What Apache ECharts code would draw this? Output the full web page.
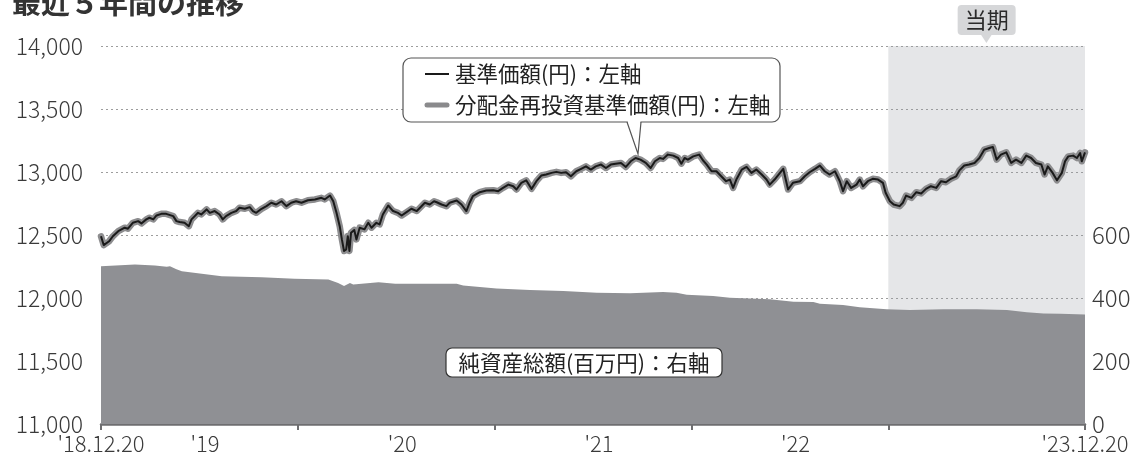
<!DOCTYPE html>
<html>
<head>
<meta charset="utf-8">
<script src="https://cdn.jsdelivr.net/npm/echarts@6/dist/echarts.min.js"></script>
<style>
  html, body { margin: 0; padding: 0; background: #ffffff; }
  #chart { width: 1136px; height: 455px; }
</style>
</head>
<body>
<div id="chart"></div>
<script>
// 基準価額（円）: dates and values
const navDates = [
  '2018-12-20','2018-12-25','2019-01-04','2019-01-11','2019-01-21','2019-02-02','2019-02-08','2019-02-17','2019-02-27','2019-03-05',
  '2019-03-14','2019-03-20','2019-03-27','2019-04-02','2019-04-11','2019-04-20','2019-05-03','2019-05-09','2019-05-15','2019-05-24',
  '2019-06-01','2019-06-06','2019-06-12','2019-06-18','2019-06-24','2019-07-04','2019-07-10','2019-07-19','2019-07-28','2019-08-03',
  '2019-08-09','2019-08-19','2019-08-28','2019-09-03','2019-09-13','2019-09-22','2019-09-28','2019-10-04','2019-10-14','2019-10-23',
  '2019-11-01','2019-11-10','2019-11-20','2019-11-29','2019-12-08','2019-12-17','2019-12-27','2020-01-08','2020-01-21','2020-02-02',
  '2020-02-08','2020-02-18','2020-02-24','2020-03-01','2020-03-07','2020-03-11','2020-03-15','2020-03-19','2020-03-22','2020-03-25',
  '2020-03-28','2020-04-03','2020-04-07','2020-04-13','2020-04-22','2020-04-29','2020-05-05','2020-05-14','2020-05-20','2020-05-26',
  '2020-06-05','2020-06-14','2020-06-23','2020-06-30','2020-07-09','2020-07-18','2020-07-28','2020-08-03','2020-08-12','2020-08-21',
  '2020-08-29','2020-09-03','2020-09-12','2020-09-21','2020-09-27','2020-10-10','2020-10-19','2020-10-28','2020-11-03','2020-11-09',
  '2020-11-22','2020-12-04','2020-12-17','2020-12-26','2021-01-04','2021-01-14','2021-01-23','2021-01-29','2021-02-07','2021-02-16',
  '2021-02-26','2021-03-07','2021-03-16','2021-03-25','2021-04-04','2021-04-13','2021-04-22','2021-05-01','2021-05-10','2021-05-20',
  '2021-05-29','2021-06-07','2021-06-16','2021-06-25','2021-07-05','2021-07-14','2021-07-23','2021-08-01','2021-08-11','2021-08-20',
  '2021-08-29','2021-09-07','2021-09-16','2021-09-26','2021-10-05','2021-10-13','2021-10-22','2021-10-28','2021-11-06','2021-11-16',
  '2021-11-25','2021-12-01','2021-12-07','2021-12-13','2021-12-23','2022-01-03','2022-01-10','2022-01-17','2022-01-26','2022-02-04',
  '2022-02-13','2022-02-22','2022-03-01','2022-03-07','2022-03-13','2022-03-23','2022-04-01','2022-04-10','2022-04-19','2022-04-29',
  '2022-05-08','2022-05-14','2022-05-23','2022-06-02','2022-06-08','2022-06-17','2022-06-26','2022-07-09','2022-07-18','2022-07-27',
  '2022-08-06','2022-08-15','2022-08-24','2022-09-02','2022-09-12','2022-09-21','2022-09-27','2022-10-04','2022-10-12','2022-10-22',
  '2022-10-28','2022-11-03','2022-11-12','2022-11-21','2022-12-01','2022-12-10','2022-12-15','2022-12-23','2022-12-30','2023-01-10',
  '2023-01-16','2023-01-22','2023-02-01','2023-02-10','2023-02-19','2023-02-28','2023-03-09','2023-03-19','2023-03-28','2023-04-06',
  '2023-04-15','2023-04-25','2023-05-01','2023-05-10','2023-05-19','2023-05-29','2023-06-07','2023-06-16','2023-06-25','2023-07-02',
  '2023-07-09','2023-07-17','2023-07-27','2023-08-05','2023-08-14','2023-08-24','2023-09-02','2023-09-11','2023-09-20','2023-09-30',
  '2023-10-06','2023-10-12','2023-10-21','2023-10-29','2023-11-07','2023-11-13','2023-11-19','2023-11-28','2023-12-05','2023-12-11',
  '2023-12-14','2023-12-20'
];
const navValues = [
  12490,12420,12450,12490,12530,12558,12550,12597,12610,12592,
  12624,12637,12624,12655,12668,12668,12650,12610,12603,12597,
  12570,12624,12650,12676,12663,12703,12676,12690,12663,12624,
  12650,12676,12690,12716,12708,12721,12690,12676,12708,12729,
  12756,12742,12768,12729,12756,12768,12756,12776,12782,12795,
  12782,12813,12768,12676,12570,12465,12373,12385,12491,12373,
  12518,12540,12465,12558,12545,12597,12558,12597,12584,12663,
  12734,12690,12676,12655,12681,12708,12690,12716,12756,12742,
  12768,12760,12742,12729,12756,12774,12742,12690,12756,12808,
  12840,12853,12855,12848,12874,12900,12887,12861,12914,12934,
  12866,12927,12972,12980,12993,13001,12993,12998,12966,13006,
  13025,13045,13019,13045,13059,13032,13059,13066,13072,13040,
  13085,13111,13098,13072,13032,13085,13111,13104,13138,13130,
  13111,13066,13111,13098,13124,13138,13093,13059,13006,13006,
  12966,12927,12940,12874,12940,13019,13040,12993,13019,12980,
  12940,12900,12940,12993,13025,12861,12914,12927,12966,12998,
  13025,13051,13006,12980,13006,12927,12848,12927,12874,12900,
  12940,12887,12927,12946,12940,12914,12835,12768,12742,12729,
  12756,12813,12795,12840,12830,12866,12887,12874,12927,12919,
  12946,12966,13013,13051,13059,13072,13111,13177,13190,13198,
  13098,13138,13156,13072,13098,13072,13130,13111,13072,13059,
  12980,13045,12993,12934,12993,13085,13124,13130,13111,13151,
  13085,13156
];
// 分配金再投資基準価額（円）: no distributions in the period, so it follows 基準価額
const reinvestValues = navValues.slice();

// 純資産総額（百万円）
const assetDates = [
  '2018-12-20','2019-02-21','2019-03-30','2019-04-21','2019-04-27','2019-05-09','2019-05-19','2019-08-01','2019-10-14','2019-12-14',
  '2020-02-15','2020-03-04','2020-03-15','2020-03-26','2020-04-01','2020-05-18','2020-06-18','2020-08-31','2020-10-10','2020-10-22',
  '2020-12-23','2021-02-23','2021-04-26','2021-06-27','2021-08-28','2021-10-28','2021-11-22','2021-12-11','2022-01-29','2022-03-01',
  '2022-05-14','2022-06-27','2022-08-03','2022-08-15','2022-09-27','2022-10-28','2022-12-17','2023-01-29','2023-04-01','2023-06-02',
  '2023-07-28','2023-09-03','2023-10-04','2023-11-04','2023-12-20'
];
const assetValues = [
  501,506,503,499,501,491,485,469,466,461,
  459,448,438,448,443,450,445,445,445,440,
  430,425,422,417,415,419,417,410,406,401,
  396,388,387,382,378,371,364,362,364,364,
  362,355,351,350,348
];

// Axis ticks and labels
const tickDates = ['2018-12-20','2019-12-20','2020-12-20','2021-12-20','2022-12-20','2023-12-20'];
const labelDates = ['2018-12-20','2019-07-01','2020-07-01','2021-07-01','2022-07-01','2023-12-20'];
const labelTexts = ["'18.12.20","'19","'20","'21","'22","'23.12.20"];
const periodRange = ['2022-12-20','2023-12-20'];
const periodMid = '2023-06-20';
const leftAxis = { min: 11000, max: 14000, step: 500 };
const rightAxis = { min: 0, max: 1200, step: 200, shownMax: 600 };

const seriesNames = ['基準価額(円)：左軸', '分配金再投資基準価額(円)：左軸', '純資産総額(百万円)：右軸'];

const FONT = '"Noto Sans CJK JP", "Noto Sans", sans-serif';
const DAY = 86400000;
const t = d => echarts.time.parse(d).getTime();
const labelTimes = labelDates.map(t);

const navData = navDates.map((d, i) => [t(d), navValues[i]]);
const reinvestData = navDates.map((d, i) => [t(d), reinvestValues[i]]);
const assetData = assetDates.map((d, i) => [t(d), assetValues[i]]);

const chart = echarts.init(document.getElementById('chart'), null, { renderer: 'canvas' });

const axisText = { color: '#3a3a3a', fontFamily: FONT, fontWeight: 300 };

chart.setOption({
  animation: false,
  backgroundColor: '#ffffff',
  textStyle: { fontFamily: FONT },
  grid: { left: 101, right: 51, top: 46, bottom: 30, containLabel: false },
  xAxis: {
    type: 'value',
    min: t(tickDates[0]),
    max: t(tickDates[tickDates.length - 1]),
    axisLine: { show: true, lineStyle: { color: '#6e6e70', width: 2.5 } },
    axisTick: {
      show: true, length: 6, inside: false,
      lineStyle: { color: '#6e6e70', width: 2 },
      customValues: tickDates.map(t)
    },
    axisLabel: Object.assign({
      show: true, fontSize: 22, margin: 9,
      customValues: labelTimes,
      hideOverlap: false, showMinLabel: true, showMaxLabel: true,
      formatter: v => {
        let best = -1, bestD = Infinity;
        labelTimes.forEach((lt, i) => { const d = Math.abs(lt - v); if (d < bestD) { bestD = d; best = i; } });
        return bestD < 2 * DAY ? labelTexts[best] : '';
      }
    }, axisText),
    splitLine: { show: false }
  },
  yAxis: [
    {
      type: 'value', position: 'left',
      min: leftAxis.min, max: leftAxis.max, interval: leftAxis.step,
      axisLine: { show: false }, axisTick: { show: false },
      axisLabel: Object.assign({
        fontSize: 23, margin: 18,
        formatter: v => v.toLocaleString('en-US')
      }, axisText),
      splitLine: { show: true, lineStyle: { color: '#9d9d9d', width: 1, type: [2, 3] } }
    },
    {
      type: 'value', position: 'right',
      min: rightAxis.min, max: rightAxis.max, interval: rightAxis.step,
      axisLine: { show: false }, axisTick: { show: false },
      axisLabel: Object.assign({
        fontSize: 24, margin: 7,
        formatter: v => (v <= rightAxis.shownMax ? String(v) : '')
      }, axisText),
      splitLine: { show: false }
    }
  ],
  series: [
    {
      name: seriesNames[1],
      type: 'line', yAxisIndex: 0, z: 1,
      data: reinvestData,
      showSymbol: false, symbol: 'none',
      lineStyle: { color: '#8d8d8f', width: 6.5, join: 'round', cap: 'round' },
      markArea: {
        silent: true,
        itemStyle: { color: 'rgba(150,154,162,0.25)' },
        label: {
          show: true, position: 'top', distance: 11,
          formatter: '当期', fontSize: 22, lineHeight: 24, color: '#2a2a2a', fontFamily: FONT,
          backgroundColor: '#d6d7d9', borderRadius: 4, padding: [3, 7, 3, 7]
        },
        data: [[{ xAxis: t(periodRange[0]) }, { xAxis: t(periodRange[1]) }]]
      },
      markPoint: {
        silent: true,
        symbol: 'triangle', symbolRotate: 180, symbolSize: [13, 10], symbolOffset: [0, -8],
        itemStyle: { color: '#d6d7d9' },
        label: { show: false },
        data: [{ coord: [t(periodMid), leftAxis.max] }]
      }
    },
    {
      name: seriesNames[2],
      type: 'line', yAxisIndex: 1, z: 2,
      data: assetData,
      showSymbol: false, symbol: 'none',
      lineStyle: { width: 0 },
      areaStyle: { color: '#8f9094', opacity: 1 }
    },
    {
      name: seriesNames[0],
      type: 'line', yAxisIndex: 0, z: 3,
      data: navData,
      showSymbol: false, symbol: 'none',
      lineStyle: { color: '#1a1a1a', width: 2, join: 'round' }
    }
  ],
  graphic: [
    {
      type: 'text', x: 12, y: -12, z: 10,
      style: { text: '最近５年間の推移', font: 'bold 29px ' + FONT, fill: '#333333', verticalAlign: 'top' }
    },
    // legend callout
    {
      type: 'rect', z: 10,
      shape: { x: 403, y: 58, width: 377, height: 64, r: 8 },
      style: { fill: '#ffffff', stroke: '#555555', lineWidth: 1.2 }
    },
    {
      type: 'polygon', z: 11,
      shape: { points: [[627.5, 121], [640.5, 121], [638, 154]] },
      style: { fill: '#ffffff', stroke: null }
    },
    {
      type: 'polyline', z: 11,
      shape: { points: [[627, 122], [638, 154], [641, 122]] },
      style: { fill: null, stroke: '#555555', lineWidth: 1.2 }
    },
    { type: 'line', z: 11, shape: { x1: 425, y1: 74, x2: 449, y2: 74 }, style: { stroke: '#1a1a1a', lineWidth: 2 } },
    { type: 'line', z: 11, shape: { x1: 427, y1: 105, x2: 447, y2: 105 }, style: { stroke: '#8a8a8c', lineWidth: 5, lineCap: 'round' } },
    { type: 'text', z: 11, x: 455, y: 74, style: { text: seriesNames[0], font: '21.5px ' + FONT, fill: '#222222', verticalAlign: 'middle' } },
    { type: 'text', z: 11, x: 455, y: 105, style: { text: seriesNames[1], font: '21.5px ' + FONT, fill: '#222222', verticalAlign: 'middle' } },
    // net assets label
    {
      type: 'rect', z: 10,
      shape: { x: 446, y: 348, width: 276, height: 29, r: 6 },
      style: { fill: '#ffffff', stroke: '#333333', lineWidth: 1.2 }
    },
    { type: 'text', z: 11, x: 584, y: 363, style: { text: seriesNames[2], font: '21.5px ' + FONT, fill: '#222222', align: 'center', verticalAlign: 'middle' } }
  ]
});
</script>
</body>
</html>
